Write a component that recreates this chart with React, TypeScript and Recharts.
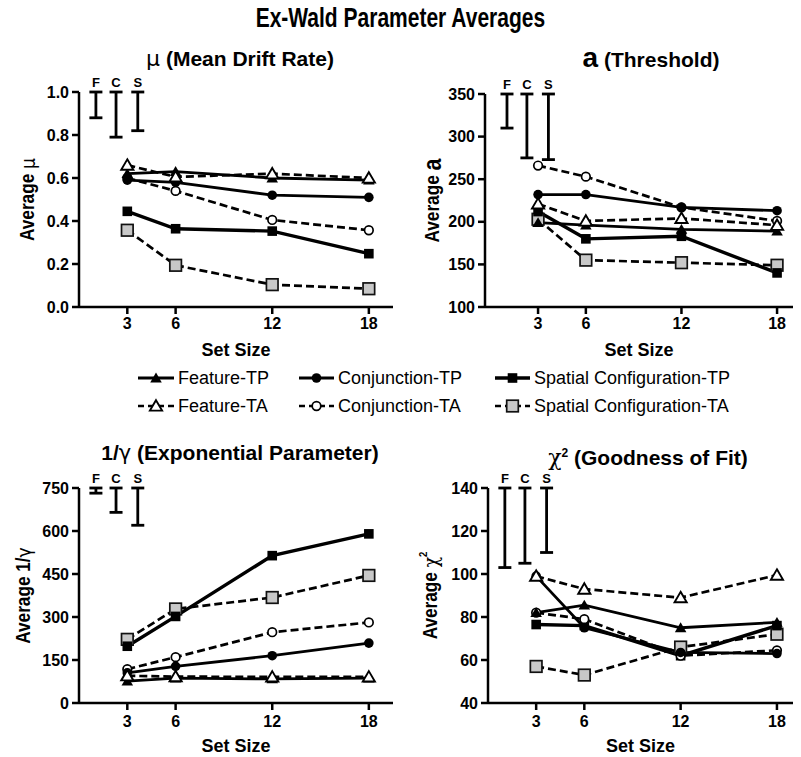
import React from 'react'
import { ComposedChart, Line, Scatter, ErrorBar, XAxis, YAxis } from 'recharts'

const setSizes = [3, 6, 12, 18]
const seriesNames = [
  'Feature-TP',
  'Conjunction-TP',
  'Spatial Configuration-TP',
  'Feature-TA',
  'Conjunction-TA',
  'Spatial Configuration-TA',
]
const errNames = ['F', 'C', 'S']
const errX = [1.05, 2.3, 3.65]

// mu (mean drift rate)
const muFeatureTP = [0.62, 0.63, 0.6, 0.59]
const muConjTP = [0.59, 0.58, 0.52, 0.51]
const muSpatialTP = [0.445, 0.364, 0.353, 0.248]
const muFeatureTA = [0.66, 0.605, 0.62, 0.6]
const muConjTA = [0.6, 0.54, 0.405, 0.357]
const muSpatialTA = [0.357, 0.194, 0.104, 0.085]
const muErrLow = [0.88, 0.79, 0.82]
const muErrHigh = [1.0, 1.0, 1.0]
const muTicks = [0, 0.2, 0.4, 0.6, 0.8, 1.0]

// a (threshold)
const aFeatureTP = [199, 196, 191, 189]
const aConjTP = [232, 232, 217, 213]
const aSpatialTP = [212, 180, 183, 140]
const aFeatureTA = [221, 201, 204, 196]
const aConjTA = [266, 253, 217, 201]
const aSpatialTA = [203, 155, 152, 149]
const aErrLow = [310, 275, 273]
const aErrHigh = [350, 350, 350]
const aTicks = [100, 150, 200, 250, 300, 350]

// 1/gamma (exponential parameter)
const gFeatureTP = [76, 87, 84, 87]
const gConjTP = [105, 128, 165, 209]
const gSpatialTP = [198, 302, 514, 590]
const gFeatureTA = [95, 92, 91, 91]
const gConjTA = [118, 160, 247, 281]
const gSpatialTA = [222, 328, 368, 445]
const gErrLow = [732, 665, 620]
const gErrHigh = [750, 750, 750]
const gTicks = [0, 150, 300, 450, 600, 750]

// chi-square (goodness of fit)
const cFeatureTP = [82, 85.5, 75, 77.5]
const cConjTP = [99, 75, 63.5, 63]
const cSpatialTP = [76.5, 76, 62, 76]
const cFeatureTA = [99, 93, 89, 99.5]
const cConjTA = [82, 79, 62, 64.5]
const cSpatialTA = [57, 53, 66, 72]
const cErrLow = [103, 105, 110]
const cErrHigh = [140, 140, 140]
const cTicks = [40, 60, 80, 100, 120, 140]

const SANS = '"Liberation Sans", Arial, Helvetica, sans-serif'

type Kind = 'triFilled' | 'triOpen' | 'circFilled' | 'circOpen' | 'sqFilled' | 'sqGray'

const styles: { kind: Kind; dash?: string; w: number }[] = [
  { kind: 'triFilled', w: 2.8 },
  { kind: 'circFilled', w: 2.8 },
  { kind: 'sqFilled', w: 3.4 },
  { kind: 'triOpen', dash: '8 4', w: 2.7 },
  { kind: 'circOpen', dash: '8 4', w: 2.7 },
  { kind: 'sqGray', dash: '8 4', w: 2.7 },
]
const drawOrder = [5, 2, 4, 1, 0, 3]

const tri = (cx: number, cy: number, r: number) =>
  `M${cx},${cy - r} L${cx + r * 1.05},${cy + r * 0.8} L${cx - r * 1.05},${cy + r * 0.8} Z`

function Marker({ kind, cx, cy }: { kind: Kind; cx: number; cy: number }) {
  switch (kind) {
    case 'triFilled':
      return <path d={tri(cx, cy, 5.5)} fill="#000" />
    case 'triOpen':
      return <path d={tri(cx, cy, 5.8)} fill="#fff" stroke="#000" strokeWidth={1.9} />
    case 'circFilled':
      return <circle cx={cx} cy={cy} r={4.8} fill="#000" />
    case 'circOpen':
      return <circle cx={cx} cy={cy} r={4.3} fill="#fff" stroke="#000" strokeWidth={1.7} />
    case 'sqFilled':
      return <rect x={cx - 4.8} y={cy - 4.8} width={9.6} height={9.6} fill="#000" />
    default:
      return (
        <rect x={cx - 5.8} y={cy - 5.8} width={11.6} height={11.6} fill="#c8c8c8" stroke="#111" strokeWidth={1.7} />
      )
  }
}

type PanelProps = {
  series: number[][]
  errLow: number[]
  errHigh: number[]
  yDomain: [number, number]
  yTicks: number[]
  yFmt?: (v: number) => string
  xDomain: [number, number]
  left: number
  top: number
  width: number
  height: number
  margin: { top: number; right: number; bottom: number; left: number }
  yWidth: number
  xTickMargin: number
  yLabel: React.ReactNode
  yLabelX: number
}

const tickStyle = { fontSize: 16, fontWeight: 'bold', fill: '#000', fontFamily: SANS }

function Panel(p: PanelProps) {
  const errData = errNames.map((n, i) => ({
    x: errX[i],
    y: p.errHigh[i],
    err: [p.errHigh[i] - p.errLow[i], 0],
    name: n,
  }))
  return (
    <div style={{ position: 'absolute', left: p.left, top: p.top }}>
      <ComposedChart width={p.width} height={p.height} margin={p.margin}>
        <XAxis
          type="number"
          dataKey="x"
          domain={p.xDomain}
          ticks={setSizes}
          allowDataOverflow
          height={50}
          tick={tickStyle}
          tickSize={7}
          tickMargin={p.xTickMargin}
          axisLine={{ stroke: '#000', strokeWidth: 2.5 }}
          tickLine={{ stroke: '#000', strokeWidth: 2.5 }}
          label={{
            value: 'Set Size',
            position: 'insideBottom',
            offset: 1,
            style: { fontSize: 18, fontWeight: 'bold', fill: '#000', fontFamily: SANS },
          }}
        />
        <YAxis
          type="number"
          domain={p.yDomain}
          ticks={p.yTicks}
          tickFormatter={p.yFmt}
          width={p.yWidth}
          tick={tickStyle}
          tickSize={7}
          tickMargin={3}
          axisLine={{ stroke: '#000', strokeWidth: 2.5 }}
          tickLine={{ stroke: '#000', strokeWidth: 2.5 }}
          label={{
            content: (lp: any) => {
              const vb = lp.viewBox || { y: 0, height: 0 }
              const cx = p.yLabelX
              const cy = vb.y + vb.height / 2
              return (
                <text
                  x={0}
                  y={0}
                  transform={`translate(${cx} ${cy}) rotate(-90) scale(0.86 1)`}
                  textAnchor="middle"
                  dominantBaseline="central"
                  fontSize={20}
                  fontWeight="bold"
                  fontFamily={SANS}
                  fill="#000"
                >
                  {p.yLabel}
                </text>
              )
            },
          }}
        />
        {drawOrder.map((si) => {
          const s = styles[si]
          const data = setSizes.map((x, i) => ({ x, y: p.series[si][i] }))
          return (
            <Line
              key={seriesNames[si]}
              name={seriesNames[si]}
              data={data}
              dataKey="y"
              stroke="#000"
              strokeWidth={s.w}
              strokeDasharray={s.dash}
              isAnimationActive={false}
              activeDot={false}
              dot={(dp: any) => <Marker key={`${si}-${dp.index}`} kind={s.kind} cx={dp.cx} cy={dp.cy} />}
            />
          )
        })}
        <Scatter
          data={errData}
          dataKey="y"
          isAnimationActive={false}
          shape={(sp: any) => (
            <text
              x={sp.cx}
              y={sp.cy - 5}
              textAnchor="middle"
              fontSize={13}
              fontWeight="bold"
              fontFamily={SANS}
              fill="#000"
            >
              {sp.payload.name}
            </text>
          )}
        >
          <ErrorBar dataKey="err" direction="y" width={6.5} stroke="#000" strokeWidth={2.8} />
        </Scatter>
      </ComposedChart>
    </div>
  )
}

function Legend() {
  const cols = [
    { x1: 138, x2: 174, tx: 178 },
    { x1: 299, x2: 334, tx: 338 },
    { x1: 495, x2: 530, tx: 534 },
  ]
  const rows = [13, 41]
  return (
    <svg width={801} height={56} style={{ position: 'absolute', left: 0, top: 365 }}>
      {seriesNames.map((name, i) => {
        const c = cols[i % 3]
        const y = rows[Math.floor(i / 3)]
        const s = styles[i]
        return (
          <g key={name}>
            <line
              x1={c.x1}
              y1={y}
              x2={c.x2}
              y2={y}
              stroke="#000"
              strokeWidth={s.w}
              strokeDasharray={s.dash ? '6 4' : undefined}
            />
            <Marker kind={s.kind} cx={(c.x1 + c.x2) / 2} cy={y} />
            <text x={c.tx} y={y} dominantBaseline="central" fontSize={18} fontFamily={SANS} fill="#000">
              {name}
            </text>
          </g>
        )
      })}
    </svg>
  )
}

const titleStyle: React.CSSProperties = {
  position: 'absolute',
  whiteSpace: 'nowrap',
  fontFamily: SANS,
  fontWeight: 'bold',
  fontSize: 21,
  lineHeight: '24px',
  transform: 'translateX(-50%)',
}

export default function App() {
  return (
    <div style={{ position: 'absolute', left: 0, top: 0, width: 801, height: 757, background: '#fff', fontFamily: SANS }}>
      <div
        style={{
          position: 'absolute',
          top: 3,
          left: 0,
          width: 801,
          textAlign: 'center',
          fontFamily: SANS,
          fontWeight: 'bold',
          fontSize: 28,
          lineHeight: '30px',
          transform: 'scaleX(0.75)',
          transformOrigin: '400px 15px',
        }}
      >
        Ex-Wald Parameter Averages
      </div>
      <div style={{ ...titleStyle, left: 240, top: 47 }}>
        <span style={{ fontWeight: 'normal', fontFamily: '"DejaVu Sans", sans-serif', fontSize: 22 }}>μ</span> (Mean Drift Rate)
      </div>
      <div style={{ ...titleStyle, left: 651, top: 46 }}>
        <span style={{ fontSize: 28 }}>a</span> (Threshold)
      </div>
      <div style={{ ...titleStyle, left: 240, top: 441 }}>
        1/<span style={{ fontWeight: 'normal', fontFamily: '"DejaVu Sans", sans-serif' }}>γ</span> (Exponential Parameter)
      </div>
      <div style={{ ...titleStyle, left: 648, top: 441 }}>
        <span style={{ fontWeight: 'normal', fontFamily: '"DejaVu Serif", serif', fontSize: 22 }}>χ</span>
        <sup style={{ fontSize: 12 }}>2</sup> (Goodness of Fit)
      </div>

      <Panel
        series={[muFeatureTP, muConjTP, muSpatialTP, muFeatureTA, muConjTA, muSpatialTA]}
        errLow={muErrLow}
        errHigh={muErrHigh}
        yDomain={[0, 1]}
        yTicks={muTicks}
        yFmt={(v) => v.toFixed(1)}
        xDomain={[0, 19.5]}
        left={0}
        top={40}
        width={400}
        height={320}
        margin={{ top: 52, right: 7, bottom: 3, left: 21 }}
        yWidth={58}
        xTickMargin={4}
        yLabel={
          <>
            Average <tspan fontWeight="normal" fontFamily='"DejaVu Sans", sans-serif'>μ</tspan>
          </>
        }
        yLabelX={27}
      />
      <Panel
        series={[aFeatureTP, aConjTP, aSpatialTP, aFeatureTA, aConjTA, aSpatialTA]}
        errLow={aErrLow}
        errHigh={aErrHigh}
        yDomain={[100, 350]}
        yTicks={aTicks}
        xDomain={[-0.33, 19]}
        left={400}
        top={40}
        width={401}
        height={320}
        margin={{ top: 54, right: 8, bottom: 3, left: 27 }}
        yWidth={58}
        xTickMargin={4}
        yLabel={
          <>
            Average <tspan fontSize={25}>a</tspan>
          </>
        }
        yLabelX={32}
      />
      <Panel
        series={[gFeatureTP, gConjTP, gSpatialTP, gFeatureTA, gConjTA, gSpatialTA]}
        errLow={gErrLow}
        errHigh={gErrHigh}
        yDomain={[0, 750]}
        yTicks={gTicks}
        xDomain={[0, 19.5]}
        left={0}
        top={440}
        width={400}
        height={317}
        margin={{ top: 48, right: 7, bottom: 4, left: 18 }}
        yWidth={61}
        xTickMargin={6}
        yLabel={
          <>
            Average 1/<tspan fontWeight="normal" fontFamily='"DejaVu Sans", sans-serif'>γ</tspan>
          </>
        }
        yLabelX={23}
      />
      <Panel
        series={[cFeatureTP, cConjTP, cSpatialTP, cFeatureTA, cConjTA, cSpatialTA]}
        errLow={cErrLow}
        errHigh={cErrHigh}
        yDomain={[40, 140]}
        yTicks={cTicks}
        xDomain={[0, 19]}
        left={400}
        top={440}
        width={401}
        height={317}
        margin={{ top: 48, right: 8, bottom: 4, left: 25 }}
        yWidth={63}
        xTickMargin={6}
        yLabel={
          <>
            Average <tspan fontWeight="normal" fontFamily='"DejaVu Serif", serif'>χ</tspan>
            <tspan dy={-7} fontSize={11}>2</tspan>
          </>
        }
        yLabelX={30}
      />
      <Legend />
    </div>
  )
}
